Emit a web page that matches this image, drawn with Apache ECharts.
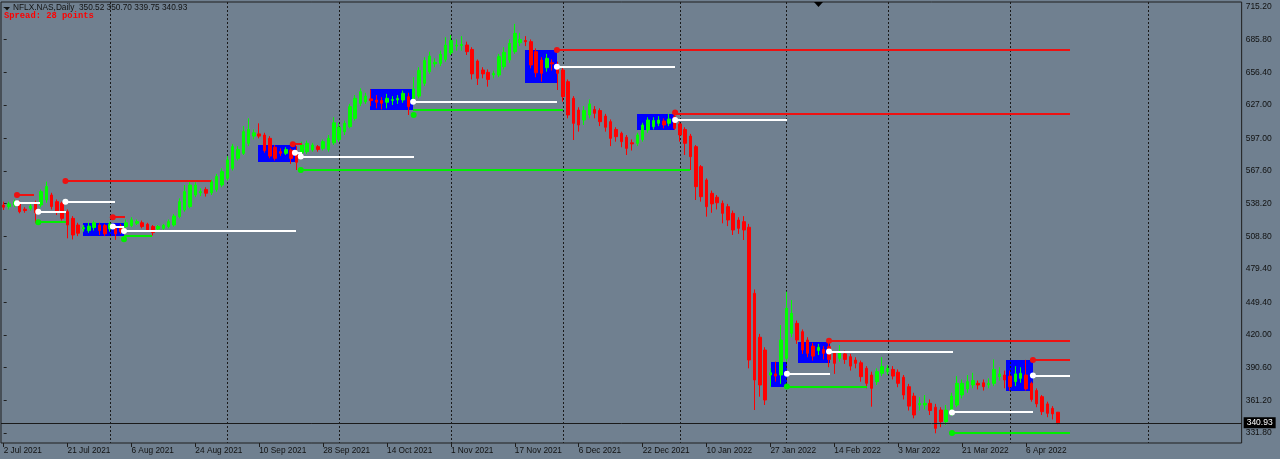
<!DOCTYPE html>
<html><head><meta charset="utf-8">
<script src="https://cdn.jsdelivr.net/npm/echarts@6/dist/echarts.min.js"></script>
<style>html,body{margin:0;padding:0;background:#708090;overflow:hidden}#c{width:1280px;height:459px}</style>
</head><body><div id="c"></div>
<script>
// ---- categories (trading days) ----
const dates = [
'2 Jul 2021','6 Jul 2021','7 Jul 2021','8 Jul 2021','9 Jul 2021','12 Jul 2021','13 Jul 2021','14 Jul 2021','15 Jul 2021','16 Jul 2021','19 Jul 2021','20 Jul 2021','21 Jul 2021','22 Jul 2021','23 Jul 2021','26 Jul 2021','27 Jul 2021','28 Jul 2021','29 Jul 2021','30 Jul 2021',
'2 Aug 2021','3 Aug 2021','4 Aug 2021','5 Aug 2021','6 Aug 2021','9 Aug 2021','10 Aug 2021','11 Aug 2021','12 Aug 2021','13 Aug 2021','16 Aug 2021','17 Aug 2021','18 Aug 2021','19 Aug 2021','20 Aug 2021','23 Aug 2021','24 Aug 2021','25 Aug 2021','26 Aug 2021','27 Aug 2021','30 Aug 2021','31 Aug 2021',
'1 Sep 2021','2 Sep 2021','3 Sep 2021','7 Sep 2021','8 Sep 2021','9 Sep 2021','10 Sep 2021','13 Sep 2021','14 Sep 2021','15 Sep 2021','16 Sep 2021','17 Sep 2021','20 Sep 2021','21 Sep 2021','22 Sep 2021','23 Sep 2021','24 Sep 2021','27 Sep 2021','28 Sep 2021','29 Sep 2021','30 Sep 2021',
'1 Oct 2021','4 Oct 2021','5 Oct 2021','6 Oct 2021','7 Oct 2021','8 Oct 2021','11 Oct 2021','12 Oct 2021','13 Oct 2021','14 Oct 2021','15 Oct 2021','18 Oct 2021','19 Oct 2021','20 Oct 2021','21 Oct 2021','22 Oct 2021','25 Oct 2021','26 Oct 2021','27 Oct 2021','28 Oct 2021','29 Oct 2021',
'1 Nov 2021','2 Nov 2021','3 Nov 2021','4 Nov 2021','5 Nov 2021','8 Nov 2021','9 Nov 2021','10 Nov 2021','11 Nov 2021','12 Nov 2021','15 Nov 2021','16 Nov 2021','17 Nov 2021','18 Nov 2021','19 Nov 2021','22 Nov 2021','23 Nov 2021','24 Nov 2021','26 Nov 2021','29 Nov 2021','30 Nov 2021',
'1 Dec 2021','2 Dec 2021','3 Dec 2021','6 Dec 2021','7 Dec 2021','8 Dec 2021','9 Dec 2021','10 Dec 2021','13 Dec 2021','14 Dec 2021','15 Dec 2021','16 Dec 2021','17 Dec 2021','20 Dec 2021','21 Dec 2021','22 Dec 2021','23 Dec 2021','27 Dec 2021','28 Dec 2021','29 Dec 2021','30 Dec 2021','31 Dec 2021',
'3 Jan 2022','4 Jan 2022','5 Jan 2022','6 Jan 2022','7 Jan 2022','10 Jan 2022','11 Jan 2022','12 Jan 2022','13 Jan 2022','14 Jan 2022','18 Jan 2022','19 Jan 2022','20 Jan 2022','21 Jan 2022','24 Jan 2022','25 Jan 2022','26 Jan 2022','27 Jan 2022','28 Jan 2022','31 Jan 2022',
'1 Feb 2022','2 Feb 2022','3 Feb 2022','4 Feb 2022','7 Feb 2022','8 Feb 2022','9 Feb 2022','10 Feb 2022','11 Feb 2022','14 Feb 2022','15 Feb 2022','16 Feb 2022','17 Feb 2022','18 Feb 2022','22 Feb 2022','23 Feb 2022','24 Feb 2022','25 Feb 2022','28 Feb 2022',
'1 Mar 2022','2 Mar 2022','3 Mar 2022','4 Mar 2022','7 Mar 2022','8 Mar 2022','9 Mar 2022','10 Mar 2022','11 Mar 2022','14 Mar 2022','15 Mar 2022','16 Mar 2022','17 Mar 2022','18 Mar 2022','21 Mar 2022','22 Mar 2022','23 Mar 2022','24 Mar 2022','25 Mar 2022','28 Mar 2022','29 Mar 2022','30 Mar 2022','31 Mar 2022',
'1 Apr 2022','4 Apr 2022','5 Apr 2022','6 Apr 2022','7 Apr 2022','8 Apr 2022','11 Apr 2022','12 Apr 2022','13 Apr 2022','14 Apr 2022'
];

// ---- daily candles: [open, close, low, high] ----
const candles = [
[537,535,532.5,540],[535.5,538,533,540],[537,540,535,542],[539,531,529.5,541],[533.2,532,530,535],
[534,536,532,538],[539,530,520.6,541],[537,549,535,551],[541.6,553.6,539,558],[546,535.6,533,548],
[540,531,528,542],[538.6,525,523,540],[531,519,507,533],[525,510,506,527],[519,511.6,509,521],
[515.5,516.7,513,519],[514,518,512,521],[516.7,521,514,523],[519,514,510,521],[518.5,511,509,520],
[515.5,520,513,522],[518,511,505.6,519],[518,513,511,520],[517.6,521,516,524],[518.5,523.6,517,526],
[520.6,522,519,524],[521,517.6,516,523],[519.7,514.6,513,521],[517.6,512.2,509.5,519],[515.5,517.6,514,519],
[516,518.8,514,520],[517.6,522,516,524],[519,527,517.5,529],[526.6,540,525,543],[532.6,549,531,555],
[535.6,555,534,558],[546,555,544,557.5],[548,549,545,552],[551,547.6,544.6,553],[548,558,546,560],
[551,562.6,549,565],[555,567,553,570],[561,577.6,559,581],[570,589.5,568,592],[579,587,577,590],
[583.5,603,582,608],[592.5,605,590,615],[599,602,596,605],[601,599,597,610.5],[600,586,584,602],
[597,581,579,599],[589,579,577,591],[585,583.5,581,588],[583.5,587,582,589],[586.5,579,574,588],
[584,575.5,568.5,590],[584,591,582,594],[585,592.5,583,595],[586.5,591,585,593],[589.5,587,585,591],
[588,594,586,596],[587,597,585,600],[593,611,591,616],[596,607,594,611],[603,610.5,600,613],
[607.5,625.5,606,628],[615,633,613,636],[628.5,639,626,642],[630,635,628,638],[632.5,631,626,641],
[631.5,629.5,624,636],[631,628.5,623,634],[629.5,633,624,637],[631,632,627,635],[631.5,633,628,636],
[631.5,637.5,629,640],[634.5,625.5,618,638],[630,641.5,628,652],[635,658,633,661],[646.5,667,644,670],
[657,671,655,675],[664,665.5,661,669],[664.5,672.6,662,676],[668,681,666,688],[674,685,672,690],
[680,681,676,686],[680.4,681.6,676,689],[681,675,672,684],[677,655,650,679],[666.6,651,645,668],
[658.5,655,651,661],[656.4,650,643.5,659],[654,655.5,651,658],[654,670.5,652,673],[661.5,674.4,659,679],
[667.5,682.5,665,686],[675,691.5,673,700],[683,686,680,692],[685,684,680,689],[684,663,660,686],
[675,656,652,678],[667.5,655.5,648,670],[660.6,669,657,673],[665,664,658,668],[663,655.5,640.5,666],
[658.5,634.5,630,661],[648,618,615,650],[633,610.5,595.5,635],[622.5,609,603,625],[613.5,622,609,626],
[618,628,615,632],[623,619.5,615,626],[622,612,608,624],[617,607,603,619],[612,597,590,614],
[605,598.5,594,607],[601.5,594,589,603],[598,588,582,600],[593,592,586,596],[592.5,600,590,602],
[596,609,594,611],[604.5,613.5,602,616],[607.5,613,605,616],[610.5,613.5,608,617],[612.6,609,606,615],
[610.5,614.4,608,619],[616.5,606,604.6,620.3],[610,600,594,612],[605,592.5,582,607],[599,580.5,568.5,601],
[589.5,553.5,541.5,591],[571.5,544.5,540,573],[559.5,535.5,526.5,561],[547.5,538,530,550],[544,539,533,546],
[538.5,529.5,520.5,541],[535.5,523.5,518,538],[529.5,514.5,510,532],[523.5,516,511,526],[522,514.5,505.5,527],
[517,397.5,390,520],[457.5,379.5,352.5,461],[418,375,364.5,421],[406.5,361.5,357,409],[384,386,373.6,390],
[385,383,378,396],[384,415.5,376,429],[399,444,396,459],[421.5,439.5,418,451.5],[430.5,415.5,412,433],
[423,406.5,403,425],[415.5,403.5,400,418],[410,401,397,413],[406,409,402,412],[407,403.5,398,410],
[409.5,398,391,414.8],[403.5,394.5,385,405],[399,404,396,411],[403,398,394,406],[400.5,392,388,403],
[397.5,394.5,390,400],[395,382.5,378,397],[390,376.5,372,392],[384,372,355.5,387],[378,387,375,390],
[385.5,391.5,383,400],[387,390,384,393],[389,383,380,392],[386.5,376.5,373,389],[382,366,362,384],
[373.5,356,352,376],[365,348,345,368],[357,358.5,352,364],[357,358.5,353,366],[358.5,352,348,362],
[355,336,331.5,358],[352.5,342,337,355],[342,352.5,339,357],[349.5,365,347,368],[357,376.5,355,383],
[366,376.5,363,380],[371.5,378,368,384],[375,379,372,386],[376.5,375,371,379],[377,373.5,370,380],
[375,376.5,372,381],[376.5,389,374,398],[382.5,385,379,391],[384,379.5,372,388],[383,373.5,370,388],
[378,385,374,392],[381,385.5,377,391],[384,371.5,370,397.6],[376.5,362,360,378],[370,358,355,372],
[364.5,351,348,366],[358,349.5,346,360],[354,349,344,356],[350.52,340.93,339.75,350.70]
];

// ---- price scale tick labels ----
const yTicks = [715.20,685.80,656.40,627.00,597.00,567.60,538.20,508.80,479.40,449.40,420.00,390.60,361.20,331.80];
const lastPrice = 340.93;
const header = 'NFLX.NAS,Daily  350.52 350.70 339.75 340.93';
const spreadText = 'Spread: 28 points';

// ---- indicator objects (bar index units, price) ----
// boxes: [fromBar, toBar, lowPrice, highPrice]
const boxes = [
[14.9,22.6,509.2,521.2],[47.8,54.9,576,591],[68.8,76.8,622.5,641.4],[97.9,103.9,646.6,676.5],
[118.9,126.1,604.6,619],[144.1,147.1,373.6,396.1],[149.1,155.1,395.2,414.1],[188.2,193.3,370,397.6]
];
// level lines: [fromBar, toBar, price]
const redLines = [[2.5,5.7,546],[11.6,38.9,558.7],[20.5,22.8,526],[54.3,56.0,591.7],[103.9,200.3,676.5],[126.1,200.3,618.7],[155.0,200.3,414.8],[193.3,200.3,397.6]];
const whiteLines = [[2.5,6.8,538.6],[6.5,11.8,531],[11.6,20.9,540],[20.5,22.6,517.6],[22.6,54.9,513.7],[54.7,56.0,584.1],[55.8,77.0,580.6],[76.9,103.9,630],[103.9,126.1,661.5],[126.1,147.1,613.6],[147.1,155.2,385.1],[155.0,178.3,405.1],[178.1,193.3,350.3],[193.3,200.3,383.5]];
const greenLines = [[6.5,11.8,521.5],[22.6,27.8,509.5],[55.8,128.9,568.6],[76.9,105.0,622.5],[147.1,162.1,373.6],[178.1,200.3,331.7]];
// level dots: [bar, price]
const redDots = [[2.5,546],[11.6,558.7],[20.5,526],[54.3,591.7],[103.9,676.5],[126.1,620.3],[155.0,414.8],[193.3,397.6]];
const whiteDots = [[2.5,538.6],[6.5,531],[11.6,540],[20.5,517.6],[22.6,513.7],[54.7,584.1],[55.8,580.6],[76.9,630],[103.9,661.5],[126.1,613.6],[147.1,385.1],[155.0,405.1],[178.1,350.3],[193.3,383.5]];
const greenDots = [[6.5,521.5],[22.6,506.2],[55.8,568.6],[77.0,618.1],[147.1,373.6],[178.1,331.7]];
// month separators (bar index)
const separators = [20,42,63,84,105,127,147,166,189,215];

// ---- layout ----
const N = 233;               // visible bar slots (data + chart shift)
const PX = 5.3247;           // pixels per bar
const gridLeft = 1, gridTop = 2, gridBottom = 16;
const gridRight = 1280 - (gridLeft + N * PX);
const yMin = 322.8, yMax = 719.7;

const cats = dates.slice();
for (let k = dates.length; k < N; k++) cats.push('+' + (k - dates.length + 1));
const showLabel = (idx) => idx % 12 === 0 && idx < dates.length;

function renderBox(params, api) {
  const a = api.coord([api.value(0), api.value(3)]);
  const b = api.coord([api.value(1), api.value(2)]);
  return {type: 'rect', shape: {x: Math.round(a[0]), y: Math.round(a[1]), width: Math.round(b[0]) - Math.round(a[0]), height: Math.round(b[1]) - Math.round(a[1])}, style: {fill: '#0000ff'}};
}
function lineRenderer(color) {
  return function (params, api) {
    const a = api.coord([api.value(0), api.value(2)]);
    const b = api.coord([api.value(1), api.value(2)]);
    const y = Math.round(a[1]);
    return {type: 'line', shape: {x1: Math.round(a[0]), y1: y, x2: Math.round(b[0]), y2: y}, style: {stroke: color, lineWidth: 2}};
  };
}
function renderSep(params, api) {
  const a = api.coord([api.value(0), yMax]);
  const b = api.coord([api.value(0), yMin]);
  const x = Math.round(a[0]) + 0.5;
  return {type: 'line', shape: {x1: x, y1: a[1], x2: x, y2: b[1]}, style: {stroke: '#1a1a1a', lineWidth: 1, lineDash: [2, 2]}};
}
function lineSeries(data, color, z) {
  return {type: 'custom', xAxisIndex: 1, yAxisIndex: 0, data: data, renderItem: lineRenderer(color), encode: {x: [0, 1], y: 2}, z: z, silent: true, clip: true};
}
function dotSeries(data, color) {
  return {type: 'scatter', xAxisIndex: 1, yAxisIndex: 0, data: data, symbol: 'circle', symbolSize: 6, itemStyle: {color: color, opacity: 1}, z: 6, silent: true};
}

const chart = echarts.init(document.getElementById('c'), null, {renderer: 'canvas'});
chart.setOption({
  animation: false,
  backgroundColor: '#708090',
  textStyle: {fontFamily: 'Liberation Sans'},
  grid: {left: gridLeft, right: gridRight, top: gridTop, bottom: gridBottom, show: true, borderColor: '#1e1e1e', borderWidth: 1},
  xAxis: [
    {type: 'category', data: cats, boundaryGap: true,
     axisLine: {show: false},
     axisTick: {show: true, interval: showLabel, alignWithLabel: true, length: 4, lineStyle: {color: '#1e1e1e'}},
     axisLabel: {interval: showLabel, align: 'left', color: '#111', fontSize: 8.3, fontFamily: 'Liberation Sans', margin: 4, hideOverlap: false,
       formatter: (val, idx) => (idx < dates.length ? val : '')},
     splitLine: {show: false}},
    {type: 'value', min: -0.5, max: N - 0.5, show: false}
  ],
  yAxis: {type: 'value', position: 'right', min: yMin, max: yMax,
    axisLine: {show: false}, splitLine: {show: false},
    axisTick: {show: true, customValues: yTicks, length: 3, lineStyle: {color: '#1e1e1e'}},
    axisLabel: {customValues: yTicks, formatter: (v) => v.toFixed(2), color: '#111', fontSize: 8.5, fontFamily: 'Liberation Sans', margin: 4}},
  series: [
    {type: 'custom', xAxisIndex: 1, yAxisIndex: 0, data: boxes, renderItem: renderBox, encode: {x: [0, 1], y: [2, 3]}, z: 1, silent: true},
    {type: 'custom', xAxisIndex: 1, yAxisIndex: 0, data: separators.map(v => [v]), renderItem: renderSep, encode: {x: 0}, z: 2, silent: true},
    {type: 'candlestick', xAxisIndex: 0, yAxisIndex: 0, data: candles, barWidth: 3, z: 3,
     itemStyle: {color: '#00ff00', color0: '#ff0000', borderColor: '#00ff00', borderColor0: '#ff0000', borderWidth: 1},
     markLine: {silent: true, symbol: 'none', animation: false,
       lineStyle: {color: '#1a1a1a', width: 1, type: 'solid'},
       label: {show: true, position: 'end', formatter: lastPrice.toFixed(2), backgroundColor: '#000', color: '#fff', padding: [1, 3, 1, 3], fontSize: 8.5, fontFamily: 'Liberation Sans', distance: 2},
       data: [{yAxis: lastPrice}]}},
    lineSeries(greenLines, '#00ee00', 4),
    lineSeries(whiteLines, '#ffffff', 4),
    lineSeries(redLines, '#ee1111', 4),
    dotSeries(redDots, '#ee1111'),
    dotSeries(whiteDots, '#ffffff'),
    dotSeries(greenDots, '#00ee00')
  ],
  graphic: [
    {type: 'polygon', shape: {points: [[4, 7], [10, 7], [7, 10.5]]}, style: {fill: '#111'}, z: 10},
    {type: 'text', left: 13, top: 4, style: {text: header, fill: '#111', font: '8.3px "Liberation Sans"'}, z: 10},
    {type: 'text', left: 4, top: 11, style: {text: spreadText, fill: '#ff0000', font: 'bold 8.8px "Liberation Mono"'}, z: 10},
    {type: 'polygon', shape: {points: [[814, 2], [823, 2], [818.5, 7]]}, style: {fill: '#000'}, z: 10}
  ]
});
</script>
</body></html>
